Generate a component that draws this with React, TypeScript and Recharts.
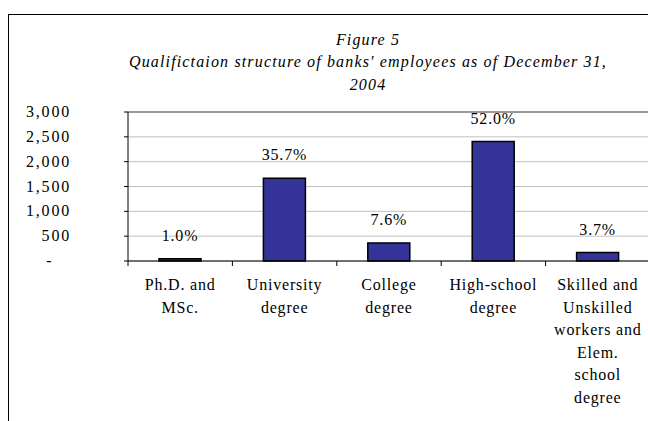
// Figure 5 — qualification structure of banks' employees, Dec 31 2004.
// Classic Excel-style column chart: navy bars, % labels on top, serif text.

import { BarChart, Bar, XAxis, YAxis, CartesianGrid, LabelList, ReferenceLine } from 'recharts';

const categories = [
  ['Ph.D. and', 'MSc.'],
  ['University', 'degree'],
  ['College', 'degree'],
  ['High-school', 'degree'],
  ['Skilled and', 'Unskilled', 'workers and', 'Elem.', 'school', 'degree'],
];
const employees = [46, 1668, 362, 2405, 170];
const shares = ['1.0%', '35.7%', '7.6%', '52.0%', '3.7%'];
const yTicks = [0, 500, 1000, 1500, 2000, 2500, 3000];
const titleLines = ['Figure 5', "Qualifictaion structure of banks' employees as of December 31,", '2004'];

const data = categories.map((lines, i) => ({ key: String(i), value: employees[i], share: shares[i] }));

const FONT = 'Liberation Serif';
const CHART_W = 700;
const CHART_H = 421;
const Y_W = 60;
const X_H = 30;
// plot area: x 128..649.5, y 112..261
const MARGIN = { top: 112, right: 50, bottom: 160 - X_H, left: 128 - Y_W };
const BAND = (CHART_W - 128 - MARGIN.right) / categories.length;

function YTick({ y, payload }: any) {
  if (payload.value === 0) {
    return <text x={49} y={y} dy={5} textAnchor="middle" fontFamily={FONT} fontSize={16} fill="#000">-</text>;
  }
  return (
    <text x={71} y={y} dy={5} textAnchor="end" fontFamily={FONT} fontSize={16} letterSpacing={1.8} fill="#000">
      {payload.value.toLocaleString('en-US')}
    </text>
  );
}

function XTick({ x, y, index }: any) {
  const lines = categories[index] ?? [];
  const left = x - BAND / 2;
  return (
    <g>
      <line x1={left} y1={y - 8} x2={left} y2={y - 3} stroke="#000" strokeWidth={1} />
      {lines.map((l, i) => (
        <text key={i} x={x} y={y + 21 + i * 22.5} textAnchor="middle" fontFamily={FONT} fontSize={16} letterSpacing={0.8} fill="#000">{l}</text>
      ))}
    </g>
  );
}

export default function App() {
  return (
    <div style={{ position: 'absolute', left: 0, top: 0, width: 648, height: 421, overflow: 'hidden', background: '#fff' }}>
      <div style={{ position: 'absolute', left: 8, top: 14, width: 800, height: 600, border: '1px solid #000', boxSizing: 'border-box' }} />
      <div style={{ position: 'absolute', left: 118, width: 500, top: 28.5, textAlign: 'center', fontFamily: FONT, fontStyle: 'italic', fontSize: 16, letterSpacing: 1.15, lineHeight: '22.8px', whiteSpace: 'nowrap' }}>
        {titleLines.map((t, i) => <div key={i}>{t}</div>)}
      </div>
      <div style={{ position: 'absolute', left: 0, top: 0 }}>
        <BarChart width={CHART_W} height={CHART_H} data={data} margin={MARGIN} barSize={42}>
          <CartesianGrid horizontal vertical={false} stroke="#c0c0c0" strokeWidth={1} />
          <ReferenceLine y={3000} stroke="#808080" strokeWidth={1.5} />
          <XAxis dataKey="key" height={X_H} axisLine={{ stroke: '#000' }} tickLine={false} tick={<XTick />} interval={0} />
          <YAxis width={Y_W} domain={[0, 3000]} ticks={yTicks} interval={0} axisLine={{ stroke: '#000' }} tickLine={{ stroke: '#000' }} tickSize={4} tick={<YTick />} />
          <Bar dataKey="value" fill="#333399" stroke="#000" strokeWidth={1.5} isAnimationActive={false}>
            <LabelList dataKey="share" position="top" offset={18} fontFamily={FONT} fontSize={16} letterSpacing={0.8} fill="#000" />
          </Bar>
        </BarChart>
      </div>
    </div>
  );
}
